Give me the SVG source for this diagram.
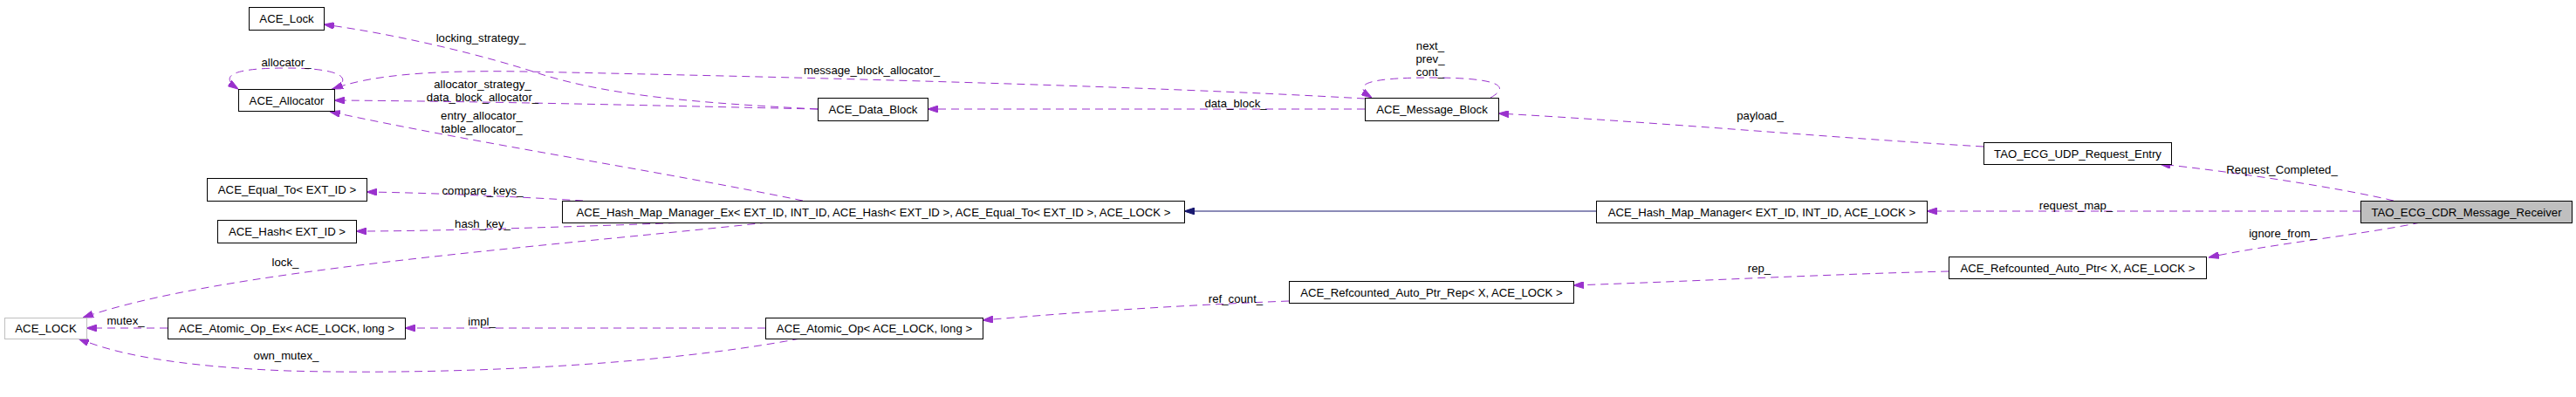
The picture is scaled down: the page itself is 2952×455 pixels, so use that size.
<svg xmlns="http://www.w3.org/2000/svg" width="2952" height="455" viewBox="0 0 2952 455">
<style>
  .node rect { fill: #ffffff; stroke: #000000; stroke-width: 1; }
  .node text, .lbl { font-family: "Liberation Sans", Arial, Helvetica, sans-serif; font-size: 13.2px; fill: #000000; text-anchor: middle; }
  .edge { fill: none; stroke: #9a32cd; stroke-width: 1; stroke-dasharray: 9,6; marker-end: url(#ah); }
  .inh { fill: none; stroke: #191970; stroke-width: 1; marker-end: url(#ahInh); }
</style>
<defs>
  <marker id="ah" viewBox="0 0 12 8" refX="12" refY="4" markerWidth="12" markerHeight="8" markerUnits="userSpaceOnUse" orient="auto">
    <path d="M0,0 L12,4 L0,8 z" fill="#9a32cd" stroke="#9a32cd" stroke-width="1"/>
  </marker>
  <marker id="ahInh" viewBox="0 0 12 8" refX="12" refY="4" markerWidth="12" markerHeight="8" markerUnits="userSpaceOnUse" orient="auto">
    <path d="M0,0 L12,4 L0,8 z" fill="#191970" stroke="#191970" stroke-width="1"/>
  </marker>
</defs>
<rect x="0" y="0" width="2952" height="455" fill="#ffffff"/>

<g id="connectors">
  <path class="edge" d="M 380,102 C 402,94 402,78 328,78 C 262,78 252,88 273,102"/>
  <path class="edge" d="M 937,125 C 800,118 700,110 620,85 C 560,65 460,40 371,28"/>
  <path class="edge" d="M 1564,113 C 1300,98 900,88 600,82 C 480,80 420,88 381,102"/>
  <path class="edge" d="M 937,125 C 750,121 550,116 383,115"/>
  <path class="edge" d="M 920,230 C 750,195 550,165 378,128"/>
  <path class="edge" d="M 668,230 C 600,226 500,221 420,220"/>
  <path class="edge" d="M 790,255 C 650,260 500,265 408,265"/>
  <path class="edge" d="M 880,255 C 600,285 250,310 95,364"/>
  <path class="edge" d="M 192,376 L 99,376"/>
  <path class="edge" d="M 877,376 L 464,376"/>
  <path class="edge" d="M 917,388 C 750,420 500,430 330,425 C 200,420 130,405 90,388"/>
  <path class="edge" d="M 1564,125 L 1063,125"/>
  <path class="edge" d="M 1708,112 C 1730,100 1722,89 1640,89 C 1560,89 1550,98 1572,112"/>
  <path class="edge" d="M 2273,168 C 2100,158 1900,140 1717,130"/>
  <path class="inh" d="M 1829,242 L 1357,242"/>
  <path class="edge" d="M 2705,242 L 2208,242"/>
  <path class="edge" d="M 2743,230 C 2680,215 2560,197 2475,188"/>
  <path class="edge" d="M 2774,255 C 2700,270 2600,280 2531,295"/>
  <path class="edge" d="M 2233,311 C 2100,314 1950,322 1803,327"/>
  <path class="edge" d="M 1477,345 C 1350,350 1230,358 1126,367"/>

  <text class="lbl" x="328" y="76">allocator_</text>
  <text class="lbl" x="551" y="48">locking_strategy_</text>
  <text class="lbl" x="999" y="85">message_block_allocator_</text>
  <text class="lbl" x="553" y="101">allocator_strategy_</text>
  <text class="lbl" x="553" y="116">data_block_allocator_</text>
  <text class="lbl" x="552" y="137">entry_allocator_</text>
  <text class="lbl" x="552" y="152">table_allocator_</text>
  <text class="lbl" x="553" y="223">compare_keys_</text>
  <text class="lbl" x="553" y="261">hash_key_</text>
  <text class="lbl" x="327" y="305">lock_</text>
  <text class="lbl" x="144" y="372">mutex_</text>
  <text class="lbl" x="552" y="373">impl_</text>
  <text class="lbl" x="328" y="412">own_mutex_</text>
  <text class="lbl" x="1416" y="123">data_block_</text>
  <text class="lbl" x="1639" y="57">next_</text>
  <text class="lbl" x="1639" y="72">prev_</text>
  <text class="lbl" x="1639" y="87">cont_</text>
  <text class="lbl" x="2017" y="137">payload_</text>
  <text class="lbl" x="1416" y="347">ref_count_</text>
  <text class="lbl" x="2016" y="312">rep_</text>
  <text class="lbl" x="2615" y="199">Request_Completed_</text>
  <text class="lbl" x="2379" y="240">request_map_</text>
  <text class="lbl" x="2616" y="272">ignore_from_</text>
</g>

<g id="n_ACE_Lock" class="node">
  <rect x="285.5" y="8.5" width="86" height="26"/>
  <text x="328.5" y="26">ACE_Lock</text>
</g>
<g id="n_ACE_Allocator" class="node">
  <rect x="273.5" y="102.5" width="110" height="25"/>
  <text x="328.5" y="119.5">ACE_Allocator</text>
</g>
<g id="n_ACE_Equal_To" class="node">
  <rect x="237.5" y="204.5" width="183" height="26"/>
  <text x="329" y="222">ACE_Equal_To&lt; EXT_ID &gt;</text>
</g>
<g id="n_ACE_Hash" class="node">
  <rect x="249.5" y="252.5" width="159" height="26"/>
  <text x="329" y="270">ACE_Hash&lt; EXT_ID &gt;</text>
</g>
<g id="n_ACE_LOCK" class="node">
  <rect x="5.5" y="364.5" width="94" height="24" style="stroke:#bfbfbf"/>
  <text x="52.5" y="381">ACE_LOCK</text>
</g>
<g id="n_ACE_Atomic_Op_Ex" class="node">
  <rect x="192.5" y="364.5" width="272" height="24"/>
  <text x="328.5" y="381">ACE_Atomic_Op_Ex&lt; ACE_LOCK, long &gt;</text>
</g>
<g id="n_ACE_Data_Block" class="node">
  <rect x="937.5" y="112.5" width="126" height="26"/>
  <text x="1000.5" y="130">ACE_Data_Block</text>
</g>
<g id="n_ACE_Hash_Map_Manager_Ex" class="node">
  <rect x="644.5" y="230.5" width="713" height="25"/>
  <text x="1001" y="247.5">ACE_Hash_Map_Manager_Ex&lt; EXT_ID, INT_ID, ACE_Hash&lt; EXT_ID &gt;, ACE_Equal_To&lt; EXT_ID &gt;, ACE_LOCK &gt;</text>
</g>
<g id="n_ACE_Atomic_Op" class="node">
  <rect x="877.5" y="364.5" width="249" height="24"/>
  <text x="1002" y="381">ACE_Atomic_Op&lt; ACE_LOCK, long &gt;</text>
</g>
<g id="n_ACE_Message_Block" class="node">
  <rect x="1564.5" y="112.5" width="153" height="26"/>
  <text x="1641" y="130">ACE_Message_Block</text>
</g>
<g id="n_ACE_Refcounted_Auto_Ptr_Rep" class="node">
  <rect x="1477.5" y="322.5" width="326" height="25"/>
  <text x="1640.5" y="339.5">ACE_Refcounted_Auto_Ptr_Rep&lt; X, ACE_LOCK &gt;</text>
</g>
<g id="n_ACE_Hash_Map_Manager" class="node">
  <rect x="1829.5" y="230.5" width="379" height="25"/>
  <text x="2019" y="247.5">ACE_Hash_Map_Manager&lt; EXT_ID, INT_ID, ACE_LOCK &gt;</text>
</g>
<g id="n_TAO_ECG_UDP_Request_Entry" class="node">
  <rect x="2273.5" y="163.5" width="215" height="25"/>
  <text x="2381" y="180.5">TAO_ECG_UDP_Request_Entry</text>
</g>
<g id="n_ACE_Refcounted_Auto_Ptr" class="node">
  <rect x="2233.5" y="294.5" width="295" height="25"/>
  <text x="2381" y="311.5">ACE_Refcounted_Auto_Ptr&lt; X, ACE_LOCK &gt;</text>
</g>
<g id="n_TAO_ECG_CDR_Message_Receiver" class="node">
  <rect x="2705.5" y="230.5" width="242" height="25" style="fill:#bfbfbf"/>
  <text x="2826.5" y="247.5">TAO_ECG_CDR_Message_Receiver</text>
</g>
</svg>
